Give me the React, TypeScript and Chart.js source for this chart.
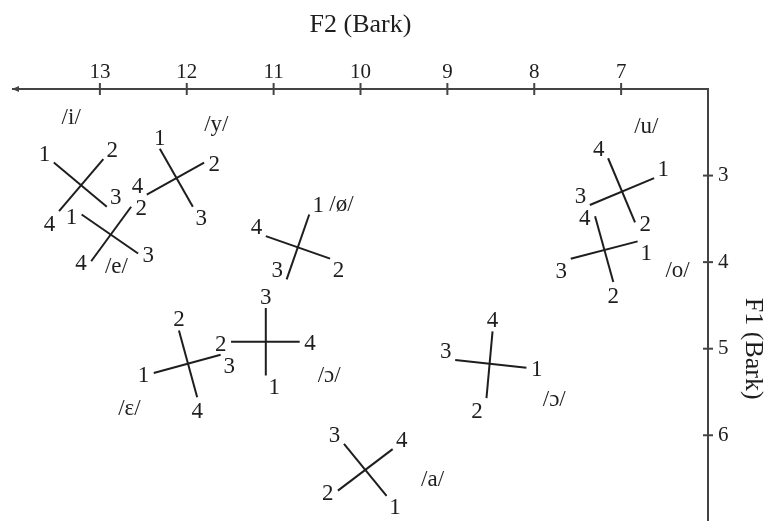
import React, { useEffect, useRef } from 'react';
import { Chart, registerables } from 'chart.js';

Chart.register(...registerables);

// ---- data ----
const F2_TICKS = [13, 12, 11, 10, 9, 8, 7];
const F1_TICKS = [3, 4, 5, 6];

const VOWELS = ['/i/', '/y/', '/e/', '/ø/', '/u/', '/o/', '/ɛ/', '/ɔ/', '/ɔ/', '/a/'];
const VOWEL_F2 = [13.33, 11.66, 12.81, 10.22, 6.71, 6.35, 12.66, 10.36, 7.77, 9.17];
const VOWEL_F1 = [2.34, 2.42, 4.06, 3.34, 2.44, 4.1, 5.7, 5.32, 5.59, 6.52];

const TOKENS = ['1', '2', '3', '4'];
// F2 (Bark) of tokens 1..4 for each vowel
const F2_POINTS = [
  [13.53, 12.96, 12.92, 13.47],
  [12.31, 11.8, 11.93, 12.46],
  [13.21, 12.64, 12.56, 13.1],
  [10.59, 10.35, 10.85, 11.09],
  [6.62, 6.84, 7.36, 7.15],
  [6.81, 7.09, 7.58, 7.3],
  [12.38, 12.09, 11.61, 11.88],
  [11.09, 11.49, 11.09, 10.7],
  [8.09, 8.55, 8.91, 8.48],
  [9.7, 10.26, 10.19, 9.63],
];
// F1 (Bark) of tokens 1..4 for each vowel
const F1_POINTS = [
  [2.85, 2.81, 3.36, 3.41],
  [2.69, 2.85, 3.36, 3.22],
  [3.45, 3.36, 3.9, 3.99],
  [3.45, 3.96, 4.2, 3.7],
  [3.03, 3.54, 3.34, 2.8],
  [3.76, 4.23, 3.96, 3.47],
  [5.28, 4.79, 5.07, 5.56],
  [5.31, 4.92, 4.53, 4.92],
  [5.22, 5.57, 5.13, 4.8],
  [6.7, 6.64, 6.1, 6.16],
];

// ---- placement / style ----
const PLACE = [
  ['NW', 'NE', 'NE', 'SW'],
  ['N', 'E', 'SE', 'NW'],
  ['W', 'E', 'E', 'W'],
  ['NE', 'SE', 'NW', 'NW'],
  ['NE', 'E', 'NW', 'NW'],
  ['SE', 'S', 'SW', 'W'],
  ['W', 'N', 'SE', 'S'],
  ['SE', 'W', 'N', 'E'],
  ['E', 'SW', 'NW', 'N'],
  ['SE', 'W', 'NW', 'NE'],
];
const OFFSETS: Record<string, [number, number]> = {
  N: [0, -11.7],
  S: [0, 13],
  E: [10.2, 1],
  W: [-10.2, 1.4],
  NE: [9, -10],
  NW: [-9.4, -9.6],
  SE: [8.5, 11],
  SW: [-9.5, 12],
};

const FONT = "'Liberation Serif', 'DejaVu Serif', serif";
const TEXT = '#1e1e1e';
const AXIS = '#444444';
const LINE = '#1e1e1e';
const LABEL_SIZE = 23;

const W = 766;
const H = 626;

const overlayPlugin = {
  id: 'overlay',
  afterDraw(chart: any) {
    const { ctx, chartArea: a, scales } = chart;
    const x = scales.x;
    const y = scales.y;
    ctx.save();
    ctx.strokeStyle = AXIS;
    ctx.lineWidth = 2;
    F2_TICKS.forEach((v) => {
      const px = x.getPixelForValue(v);
      ctx.beginPath();
      ctx.moveTo(px, a.top - 6);
      ctx.lineTo(px, a.top + 6);
      ctx.stroke();
    });
    F1_TICKS.forEach((v) => {
      const py = y.getPixelForValue(v);
      ctx.beginPath();
      ctx.moveTo(a.right - 5, py);
      ctx.lineTo(a.right + 5, py);
      ctx.stroke();
    });
    // arrow head at left end of F2 axis
    ctx.fillStyle = AXIS;
    ctx.beginPath();
    ctx.moveTo(a.left - 1, a.top);
    ctx.lineTo(a.left + 6, a.top - 3);
    ctx.lineTo(a.left + 6, a.top + 3);
    ctx.closePath();
    ctx.fill();

    // token labels
    ctx.fillStyle = TEXT;
    ctx.font = `${LABEL_SIZE}px ${FONT}`;
    ctx.textAlign = 'center';
    ctx.textBaseline = 'alphabetic';
    F2_POINTS.forEach((row, i) => {
      row.forEach((f2, k) => {
        const px = x.getPixelForValue(f2);
        const py = y.getPixelForValue(F1_POINTS[i][k]);
        const [dx, dy] = OFFSETS[PLACE[i][k]];
        ctx.fillText(TOKENS[k], px + dx, py + dy + LABEL_SIZE * 0.33);
      });
    });
    // vowel labels
    ctx.textBaseline = 'middle';
    VOWELS.forEach((v, i) => {
      ctx.fillText(v, x.getPixelForValue(VOWEL_F2[i]), y.getPixelForValue(VOWEL_F1[i]));
    });
    ctx.restore();
  },
};

export default function App() {
  const ref = useRef<HTMLCanvasElement>(null);
  useEffect(() => {
    if (!ref.current) return;
    const datasets: any[] = [];
    F2_POINTS.forEach((row, i) => {
      const pts = row.map((f2, k) => ({ x: f2, y: F1_POINTS[i][k] }));
      [[0, 2], [1, 3]].forEach(([a, b]) => {
        datasets.push({
          label: `${VOWELS[i]} ${TOKENS[a]}-${TOKENS[b]}`,
          data: [pts[a], pts[b]],
          showLine: true,
          pointRadius: 0,
          borderColor: LINE,
          borderWidth: 2,
          fill: false,
        });
      });
    });
    const chart = new Chart(ref.current, {
      type: 'scatter',
      data: { datasets },
      plugins: [overlayPlugin],
      options: {
        animation: false,
        responsive: false,
        events: [],
        layout: { padding: { left: 13, top: 0, right: 0, bottom: 12 } },
        plugins: { legend: { display: false }, tooltip: { enabled: false } },
        scales: {
          x: {
            type: 'linear',
            position: 'top',
            min: 6,
            max: 14,
            reverse: true,
            afterBuildTicks: (s: any) => {
              s.ticks = F2_TICKS.map((v) => ({ value: v }));
            },
            afterFit: (s: any) => {
              s.height = 89;
            },
            grid: { display: false, drawTicks: true, tickLength: 4 },
            border: { display: true, color: AXIS, width: 2 },
            ticks: {
              padding: 0,
              color: TEXT,
              font: { family: FONT, size: 21 },
              maxRotation: 0,
              autoSkip: false,
            },
            title: {
              display: true,
              text: 'F2 (Bark)',
              color: TEXT,
              font: { family: FONT, size: 26 },
              padding: { top: 10, bottom: 0 },
            },
          },
          y: {
            type: 'linear',
            position: 'right',
            min: 2,
            max: 8,
            reverse: true,
            afterBuildTicks: (s: any) => {
              s.ticks = F1_TICKS.map((v) => ({ value: v }));
            },
            afterFit: (s: any) => {
              s.width = 58;
            },
            grid: { display: false, drawTicks: true, tickLength: 5 },
            border: { display: true, color: AXIS, width: 2 },
            ticks: {
              padding: 5,
              color: TEXT,
              font: { family: FONT, size: 21 },
              autoSkip: false,
            },
            title: {
              display: true,
              text: 'F1 (Bark)',
              color: TEXT,
              font: { family: FONT, size: 26 },
              padding: { top: -2, bottom: 0 },
            },
          },
        },
      },
    });
    return () => chart.destroy();
  }, []);
  return (
    <div
      style={{
        position: 'fixed',
        left: 0,
        top: 0,
        width: W,
        height: 521,
        overflow: 'hidden',
        background: '#fff',
      }}
    >
      <canvas ref={ref} width={W} height={H} style={{ width: W, height: H, display: 'block' }} />
    </div>
  );
}
